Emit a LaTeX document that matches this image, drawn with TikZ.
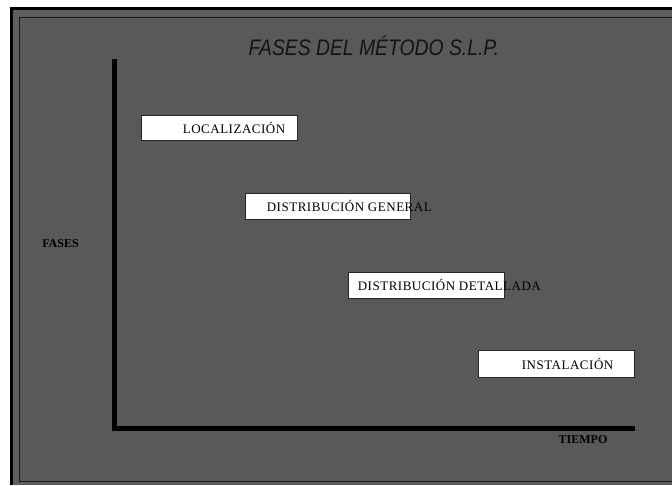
\documentclass[tikz,border=0pt]{standalone}
\usepackage{fontspec}
\setmainfont{Liberation Serif}
\newfontfamily\titlefont[FakeStretch=0.86]{Liberation Sans}
\newfontfamily\boxfont[LetterSpace=4]{Liberation Serif}
\definecolor{bggray}{HTML}{595959}
\definecolor{bandgray}{HTML}{5F5F5F}
\definecolor{titleink}{HTML}{141414}
\begin{document}
\begin{tikzpicture}[x=1pt,y=-1pt,
  phasebox/.style={draw=black!85, line width=0.8pt, fill=white, rectangle, inner sep=0pt},
  phasetext/.style={anchor=west, inner sep=0pt, font=\boxfont\fontsize{13}{15}\selectfont, text=black},
  axislabel/.style={inner sep=0pt, font=\bfseries\fontsize{12}{14}\selectfont, text=black},
  axisline/.style={line width=5pt, black, line join=miter}]
\useasboundingbox (0,0) rectangle (672,485);
\fill[white] (0,0) rectangle (672,485);
% frame
\fill[black] (10,7) rectangle (672,485);
\fill[bandgray] (13,10) rectangle (672,485);
\fill[bggray] (19,17.5) rectangle (672,481);
\draw[black!90, line width=1pt] (672,17.5) -- (19,17.5) -- (19,481) -- (672,481);
% title
\node[inner sep=0pt, font=\titlefont\itshape\fontsize{22.5}{26}\selectfont, text=titleink] (title) at (374,46) {FASES DEL MÉTODO S.L.P.};
% axes
\coordinate (ytop) at (114.5,59);
\coordinate (origin) at (114.5,428.5);
\coordinate (xend) at (635,428.5);
\draw[axisline] (ytop) -- (origin) -- (xend);
\node[axislabel] (fases) at (60.5,244) {FASES};
\node[axislabel] (tiempo) at (583,440) {TIEMPO};
% boxes
\node[phasebox, minimum width=156pt, minimum height=25pt] (b1) at (219,127.5) {};
\node[phasetext] (t1) at ([xshift=42pt]b1.west) {LOCALIZACIÓN};
\node[phasebox, minimum width=165pt, minimum height=26pt] (b2) at (327.5,206) {};
\node[phasetext] (t2) at ([xshift=22pt]b2.west) {DISTRIBUCIÓN GENERAL};
\node[phasebox, minimum width=156pt, minimum height=26pt] (b3) at (426,285) {};
\node[phasetext] (t3) at ([xshift=10pt]b3.west) {DISTRIBUCIÓN DETALLADA};
\node[phasebox, minimum width=156pt, minimum height=27pt] (b4) at (556,363.5) {};
\node[phasetext] (t4) at ([xshift=44pt]b4.west) {INSTALACIÓN};
\end{tikzpicture}
\end{document}
